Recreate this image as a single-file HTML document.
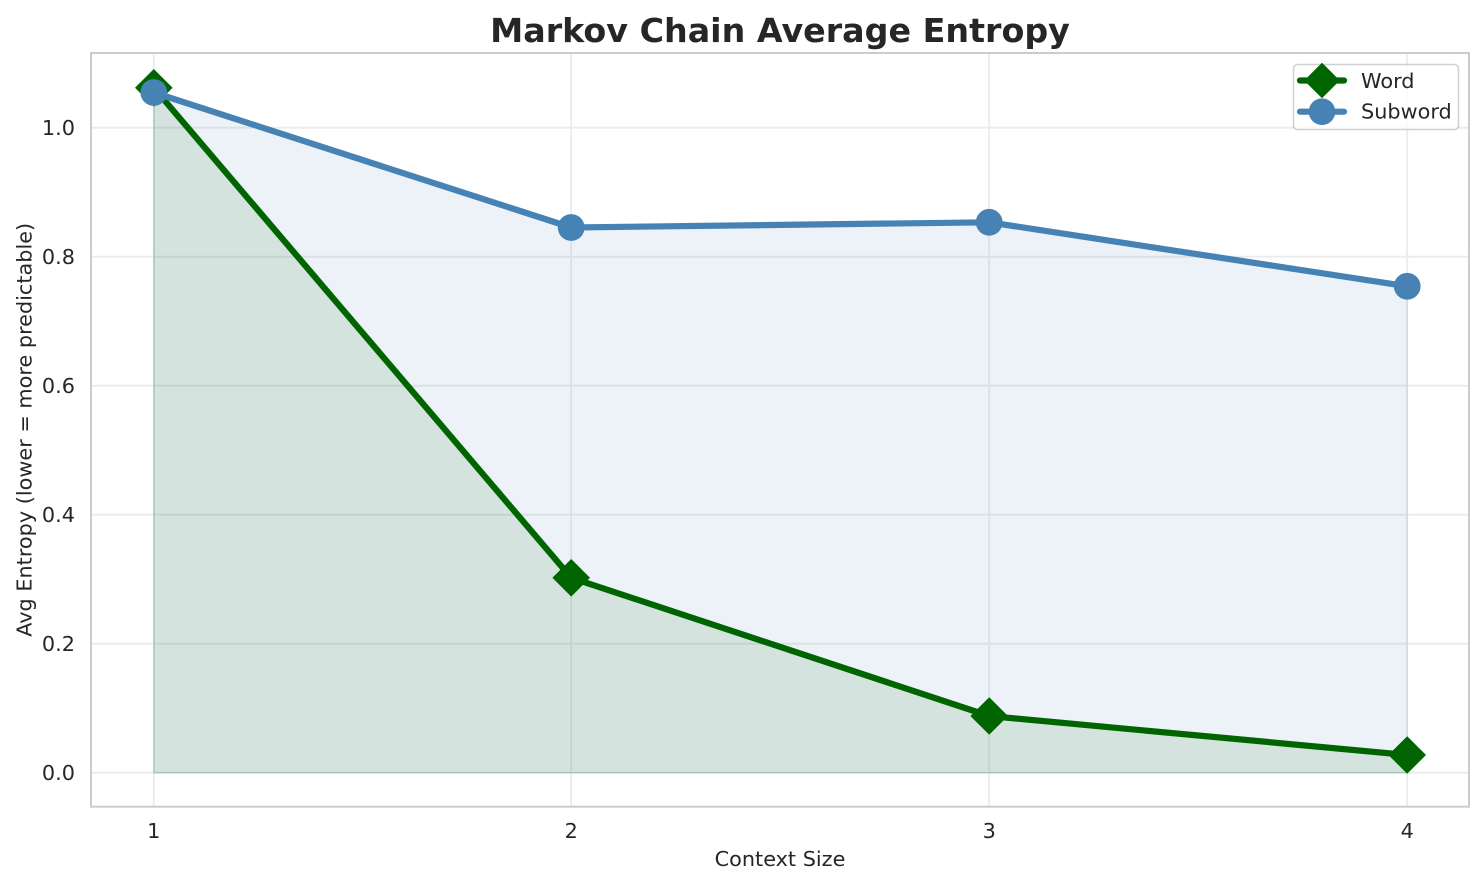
<!DOCTYPE html>
<html>
<head>
<meta charset="utf-8">
<style>
  html, body { margin: 0; padding: 0; background: #ffffff; }
  svg { display: block; }
  text { font-family: "DejaVu Sans", "Liberation Sans", sans-serif; fill: #262626; }
</style>
</head>
<body>
<svg width="1484" height="885" viewBox="0 0 1484 885" xmlns="http://www.w3.org/2000/svg">
  <rect x="0" y="0" width="1484" height="885" fill="#ffffff"/>

  <!-- grid -->
  <g stroke="#ebebeb" stroke-width="1.8">
    <line x1="91" y1="772.7" x2="1469" y2="772.7"/>
    <line x1="91" y1="643.7" x2="1469" y2="643.7"/>
    <line x1="91" y1="514.7" x2="1469" y2="514.7"/>
    <line x1="91" y1="385.7" x2="1469" y2="385.7"/>
    <line x1="91" y1="256.7" x2="1469" y2="256.7"/>
    <line x1="91" y1="127.7" x2="1469" y2="127.7"/>
    <line x1="153.8" y1="53" x2="153.8" y2="806.7"/>
    <line x1="571.2" y1="53" x2="571.2" y2="806.7"/>
    <line x1="989.2" y1="53" x2="989.2" y2="806.7"/>
    <line x1="1407.2" y1="53" x2="1407.2" y2="806.7"/>
  </g>

  <!-- fills -->
  <path d="M153.8,772.7 L153.8,92.5 L571.2,227.5 L989.2,222.3 L1407.2,286.3 L1407.2,772.7 Z"
        fill="#4682b4" fill-opacity="0.1" stroke="#4682b4" stroke-opacity="0.1" stroke-width="1.5"/>
  <path d="M153.8,772.7 L153.8,87.8 L571.2,577.8 L989.2,716 L1407.2,755 L1407.2,772.7 Z"
        fill="#006400" fill-opacity="0.1" stroke="#006400" stroke-opacity="0.1" stroke-width="1.5"/>

  <!-- Word line -->
  <polyline points="153.8,87.8 571.2,577.8 989.2,716 1407.2,755" fill="none" stroke="#006400" stroke-width="6.2" stroke-linejoin="round" stroke-linecap="round"/>
  <g fill="#006400">
    <path d="M153.8,69 L172.6,87.8 L153.8,106.6 L135,87.8 Z"/>
    <path d="M571.2,559 L590,577.8 L571.2,596.6 L552.4,577.8 Z"/>
    <path d="M989.2,697.2 L1008,716 L989.2,734.8 L970.4,716 Z"/>
    <path d="M1407.2,736.2 L1426,755 L1407.2,773.8 L1388.4,755 Z"/>
  </g>

  <!-- Subword line -->
  <polyline points="153.8,92.5 571.2,227.5 989.2,222.3 1407.2,286.3" fill="none" stroke="#4682b4" stroke-width="6.2" stroke-linejoin="round" stroke-linecap="round"/>
  <g fill="#4682b4">
    <circle cx="153.8" cy="92.5" r="13.4"/>
    <circle cx="571.2" cy="227.5" r="13.4"/>
    <circle cx="989.2" cy="222.3" r="13.4"/>
    <circle cx="1407.2" cy="286.3" r="13.4"/>
  </g>

  <!-- spines -->
  <rect x="91" y="53" width="1378" height="753.7" fill="none" stroke="#cccccc" stroke-width="2"/>

  <!-- y tick labels -->
  <g font-size="20.8" text-anchor="end">
    <text x="75" y="780.2">0.0</text>
    <text x="75" y="651.2">0.2</text>
    <text x="75" y="522.2">0.4</text>
    <text x="75" y="393.2">0.6</text>
    <text x="75" y="264.2">0.8</text>
    <text x="75" y="135.2">1.0</text>
  </g>

  <!-- x tick labels -->
  <g font-size="20.8" text-anchor="middle">
    <text x="153.8" y="838">1</text>
    <text x="571.2" y="838">2</text>
    <text x="989.2" y="838">3</text>
    <text x="1407.2" y="838">4</text>
  </g>

  <!-- axis labels -->
  <text x="780" y="866" font-size="20.8" text-anchor="middle">Context Size</text>
  <text x="0" y="0" font-size="20.8" text-anchor="middle" transform="translate(31.5,429.8) rotate(-90)">Avg Entropy (lower = more predictable)</text>

  <!-- title -->
  <text x="780" y="42" font-size="33.3" font-weight="bold" text-anchor="middle">Markov Chain Average Entropy</text>

  <!-- legend -->
  <rect x="1293.5" y="64.5" width="165" height="65" rx="4" ry="4" fill="#ffffff" fill-opacity="0.8" stroke="#d0d0d0" stroke-width="1.5"/>
  <line x1="1300" y1="80.5" x2="1344" y2="80.5" stroke="#006400" stroke-width="6.2" stroke-linecap="round"/>
  <path d="M1322,62.7 L1339.8,80.5 L1322,98.3 L1304.2,80.5 Z" fill="#006400"/>
  <line x1="1300" y1="111.7" x2="1344" y2="111.7" stroke="#4682b4" stroke-width="6.2" stroke-linecap="round"/>
  <circle cx="1322" cy="111.7" r="13.3" fill="#4682b4"/>
  <text x="1361" y="88" font-size="20.8">Word</text>
  <text x="1361" y="118.5" font-size="20.8">Subword</text>
</svg>
</body>
</html>
